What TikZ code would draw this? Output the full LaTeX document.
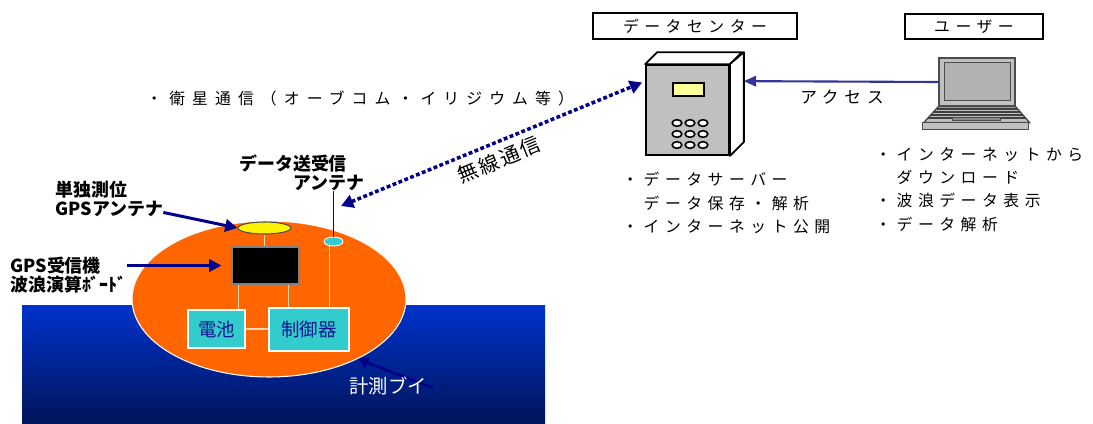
\documentclass[tikz,border=0pt]{standalone}
\usepackage{fontspec}
\usetikzlibrary{arrows.meta,calc,shapes.geometric}
\newfontfamily\jp{Noto Sans CJK JP}
\newfontfamily\jpsp[LetterSpace=35]{Noto Sans CJK JP}
\newfontfamily\jpwide[LetterSpace=45]{Noto Sans CJK JP}
\newfontfamily\jpnarrow[LetterSpace=12]{Noto Sans CJK JP}
\definecolor{navy}{RGB}{0,0,140}
\definecolor{linkblue}{RGB}{51,51,153}
\definecolor{buoyorange}{RGB}{255,102,0}
\definecolor{tealbox}{RGB}{51,204,204}
\definecolor{seatop}{RGB}{0,51,204}
\definecolor{seabot}{RGB}{0,20,90}
\definecolor{wire}{RGB}{255,215,180}
\definecolor{boxgray}{RGB}{192,192,192}
\definecolor{lcd}{RGB}{255,255,153}
\definecolor{textnavy}{RGB}{20,20,140}

\begin{document}
\begin{tikzpicture}[x=0.02cm,y=-0.02cm,
  boldlabel/.style={font=\jp\bfseries\fontsize{10.2}{10.8}\selectfont, align=left, inner sep=0},
  spaced/.style={font=\jpsp\fontsize{9}{13.3}\selectfont, align=left, inner sep=0},
  titlebox/.style={draw=black, line width=0.8pt, inner sep=0, font=\jpsp\fontsize{9}{10}\selectfont},
  unitbox/.style={draw=white, line width=0.8pt, fill=tealbox, inner sep=0, text=textnavy, font=\jp\fontsize{10.5}{11}\selectfont},
  wirestyle/.style={wire, line width=0.8pt},
  navyarrow/.style={navy, line width=1.7pt, -{Triangle[length=7pt,width=7pt]}},
  radiolink/.style={navy, line width=2pt, dash pattern=on 2.2pt off 1.4pt,
    {Triangle[length=7pt,width=7.5pt]}-{Triangle[length=7pt,width=7.5pt]}},
  accessarrow/.style={linkblue, line width=1.2pt, -{Triangle[length=7pt,width=6pt]}}
]
\useasboundingbox (0,0) rectangle (1093,423);

% sea
\shade[top color=seatop, bottom color=seabot] (22,305) rectangle (545,423);

% buoy body and its parts
\node[ellipse, draw=white, line width=0.6pt, fill=buoyorange, minimum width=5.48cm, minimum height=3.12cm, inner sep=0] (buoy) at (269,299) {};
\node[ellipse, draw=black!70, line width=0.6pt, fill=yellow, minimum width=1.06cm, minimum height=0.24cm, inner sep=0] (gpsant) at (264.5,228) {};
\node[ellipse, draw=white, line width=0.5pt, fill=tealbox, minimum width=0.38cm, minimum height=0.18cm, inner sep=0] (radioant) at (333.5,241.5) {};
\node[draw=gray, line width=0.6pt, fill=black, minimum width=1.34cm, minimum height=0.74cm, inner sep=0] (receiver) at (265.5,265.5) {};
\node[unitbox, minimum width=1.14cm, minimum height=0.76cm] (battery) at (216.5,329) {電池};
\node[unitbox, minimum width=1.6cm, minimum height=0.86cm] (controller) at (309,329.5) {制御器};

% internal wiring
\draw[wirestyle] (gpsant.south) -- (gpsant.south |- receiver.north);
\draw[wirestyle] ($(receiver.south west)!0.1!(receiver.south east)$) coordinate (w1) -- (w1 |- battery.north);
\draw[wirestyle] ($(receiver.south west)!0.84!(receiver.south east)$) coordinate (w2) -- (w2 |- controller.north);
\draw[wirestyle] (battery.east) -- (battery.east -| controller.west);
\draw[wirestyle] ($(radioant.south)+(-4,0)$) coordinate (w3) -- (w3 |- controller.north);

% antenna mast
\draw[navy, line width=0.9pt] (radioant.north) -- ++(0,-46) coordinate (masttop);

% labels on the buoy side
\node[boldlabel, anchor=north west] (radiolbl) at (239,154) {データ送受信\\\hspace*{3em}アンテナ};
\node[boldlabel, anchor=north west] (gpslbl) at (55,181) {単独測位\\GPSアンテナ};
\node[boldlabel, anchor=north west] (rxlbl) at (10,257) {GPS受信機\\波浪演算ﾎﾞｰﾄﾞ};

\draw[navyarrow] ($(gpslbl.south east)+(0,-5)$) -- (gpsant.west);
\draw[navyarrow, shorten >=5.7pt] (receiver.west -| rxlbl.east) -- (receiver.west);
\coordinate (buoyfrom) at (433,388);
\draw[navy, line width=1.5pt, -{Triangle[length=6pt,width=6pt]}] (buoyfrom) -- (buoy.-34);
\node[text=white, inner sep=0, font=\jp\fontsize{11}{12}\selectfont] (buoylbl) at (388,386) {計測ブイ};

% data center
\node[titlebox, minimum width=4.08cm, minimum height=0.52cm] (dctitle) at (695,26) {データセンター};
\node[draw=black, line width=1pt, fill=boxgray, minimum width=1.66cm, minimum height=1.8cm, inner sep=0] (server) at (687.5,110) {};
\draw[fill=white, line width=1pt, line join=round] (server.north west) -- ++(12,-12) -- ++(85,0) -- (server.north east) -- cycle;
\draw[fill=white, line width=1pt, line join=round] (server.north east) -- ++(14,-12) -- ++(0,90) -- (server.south east) -- cycle;
\node[draw=black, line width=1pt, fill=lcd, minimum width=0.62cm, minimum height=0.26cm, inner sep=0] (lcd) at (688.5,89.5) {};
\foreach \bx in {677,690,703}
  \foreach \by in {123,134,145}
    \draw[line width=0.9pt, fill=white] (\bx,\by) ellipse (4.8 and 3.3);
\node[spaced, anchor=north west] (dclist) at (622,172) {・データサーバー\\　データ保存・解析\\・インターネット公開};

% user
\node[titlebox, minimum width=2.76cm, minimum height=0.5cm] (usertitle) at (974,26.5) {ユーザー};
\node[draw=black!70, line width=0.8pt, fill=boxgray, minimum width=1.52cm, minimum height=0.96cm, inner sep=0] (laptop) at (977,82) {};
\draw[draw=black!70, line width=0.8pt, fill=black!30] ($(laptop.north west)+(6,5)$) rectangle ($(laptop.south east)+(-5,-6)$);
\draw[draw=black!70, line width=0.8pt, fill=boxgray] (laptop.south west) -- (laptop.south east) -- ++(14,16) -- ++(-106,0) -- cycle;
\draw[draw=black!70, line width=0.8pt, fill=boxgray] ($(laptop.south west)+(-16,16)$) rectangle ++(106,7);
\foreach \k in {2,5,8,11}
  \draw[black!75, line width=1.1pt] ($(laptop.south west)+(-\k*0.9,\k)$) -- ($(laptop.south east)+(\k*0.9,\k)$);
\draw[draw=black!70, line width=0.8pt, fill=black!45] ($(laptop.south west)+(14,11)$) rectangle ++(48,3);
\node[spaced, anchor=north west] (userlist) at (875,147) {・インターネットから\\　ダウンロード\\・波浪データ表示\\・データ解析};

% links
\coordinate (srvside) at ($(server.north east)+(14,17)$);
\draw[accessarrow] (laptop.west) -- (srvside);
\node[font=\jpsp\fontsize{9.5}{10}\selectfont, inner sep=0] (accesslbl) at (842,97) {アクセス};

\coordinate (srvport) at ($(server.north west)!0.2!(server.south west)+(-3,0)$);
\coordinate (radiotip) at (341,206);
\draw[radiolink] (radiotip) -- (srvport);
\node[rotate=22.5, font=\jpnarrow\fontsize{11.5}{12}\selectfont, inner sep=0] (radiowordlbl) at (499,160) {無線通信};

\node[anchor=west, inner sep=0, font=\jpwide\fontsize{9}{10}\selectfont] (satlbl) at (146,98) {・衛星通信（オーブコム・イリジウム等）};
\end{tikzpicture}
\end{document}
